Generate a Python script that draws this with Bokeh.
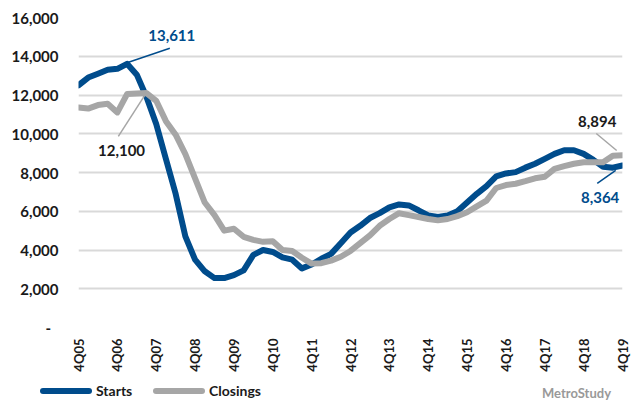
import math
from bokeh.plotting import figure
from bokeh.layouts import column
from bokeh.models import Range1d, FixedTicker, Label, ColumnDataSource, Div
from bokeh.embed import file_html
from bokeh.resources import INLINE

# ---------------- data ----------------
quarters = []
for yy in range(5, 20):
    for q in (1, 2, 3, 4):
        if (yy == 5 and q < 4):
            continue
        quarters.append(f"{q}Q{yy:02d}")
quarters = quarters[:57]

starts = [12500, 12900, 13100, 13300, 13350, 13611, 13050, 11900, 10500, 8700,
          6900, 4700, 3500, 2900, 2550, 2550, 2700, 2950, 3750, 4000,
          3900, 3620, 3500, 3050, 3250, 3550, 3800, 4350, 4900, 5250,
          5650, 5900, 6200, 6350, 6300, 6050, 5780, 5700, 5780, 6000,
          6450, 6900, 7300, 7800, 7950, 8020, 8250, 8450, 8700, 8960,
          9150, 9150, 8960, 8650, 8300, 8250, 8364]

closings = [11350, 11300, 11480, 11550, 11100, 12050, 12080, 12100, 11700, 10650,
            9950, 8950, 7700, 6450, 5800, 5000, 5100, 4680, 4520, 4420,
            4450, 4000, 3950, 3600, 3300, 3320, 3450, 3650, 3950, 4350,
            4750, 5250, 5600, 5900, 5800, 5700, 5600, 5530, 5600, 5750,
            5950, 6250, 6550, 7200, 7350, 7420, 7550, 7700, 7780, 8190,
            8330, 8450, 8530, 8530, 8530, 8870, 8894]

y_ticks = [0, 2000, 4000, 6000, 8000, 10000, 12000, 14000, 16000]
y_tick_labels = ["-\u00a0\u00a0", "2,000", "4,000", "6,000", "8,000", "10,000", "12,000", "14,000", "16,000"]

series_names = ["Starts", "Closings"]
source_note = "MetroStudy"

# ---------------- styling ----------------
BLUE = "#004C8C"
GRAY = "#A6A6A6"
GRID = "#D9D9D9"
TXT = "#1A1A1A"
FONT = "Lato"

x = list(range(len(quarters)))
src = ColumnDataSource(dict(x=x, starts=starts, closings=closings))

p = figure(width=634, height=376, output_backend="svg", toolbar_location=None,
           x_range=Range1d(0, len(quarters) - 1), y_range=Range1d(0, 16000),
           min_border_left=78, min_border_right=12, min_border_top=17, min_border_bottom=49)
p.outline_line_color = None
p.background_fill_color = "white"
p.border_fill_color = "white"

r1 = p.line("x", "starts", source=src, line_width=6, color=BLUE, line_join="round", line_cap="round")
r2 = p.line("x", "closings", source=src, line_width=6, color=GRAY, line_join="round", line_cap="round")

# y axis
p.yaxis.ticker = FixedTicker(ticks=y_ticks)
p.yaxis.major_label_overrides = {t: l for t, l in zip(y_ticks, y_tick_labels)}
p.yaxis.axis_line_color = None
p.yaxis.major_tick_line_color = None
p.yaxis.minor_tick_line_color = None
p.yaxis.major_tick_out = 0
p.yaxis.major_tick_in = 0
p.yaxis.major_label_standoff = 20
p.yaxis.major_label_text_font = FONT
p.yaxis.major_label_text_font_style = "bold"
p.yaxis.major_label_text_font_size = "15px"
p.yaxis.major_label_text_color = TXT

p.ygrid.grid_line_color = GRID
p.ygrid.grid_line_width = 2
p.xgrid.grid_line_color = None

# x axis
xt = [i for i, q in enumerate(quarters) if q.startswith("4Q")]
p.xaxis.ticker = FixedTicker(ticks=xt)
p.xaxis.major_label_overrides = {i: quarters[i] for i in xt}
p.xaxis.major_label_orientation = math.pi / 2
p.xaxis.axis_line_color = None
p.xaxis.major_tick_line_color = None
p.xaxis.minor_tick_line_color = None
p.xaxis.major_tick_out = 0
p.xaxis.major_tick_in = 0
p.xaxis.major_label_standoff = 11
p.xaxis.major_label_text_font = FONT
p.xaxis.major_label_text_font_style = "bold"
p.xaxis.major_label_text_font_size = "13px"
p.xaxis.major_label_text_color = TXT

# annotations (anchored to data points)
i_sp = starts.index(max(starts))
i_cp = closings.index(max(closings))
i_last = len(quarters) - 1


def ann(xv, yv, txt, color):
    p.add_layout(Label(x=xv, y=yv, text=txt, text_align="center", text_baseline="middle",
                       text_color=color, text_font=FONT, text_font_style="bold",
                       text_font_size="15px"))


p.segment(x0=[i_sp + 0.15], y0=[starts[i_sp] + 80], x1=[i_sp + 4.4], y1=[starts[i_sp] + 800],
          line_color=BLUE, line_width=1.5)
ann(i_sp + 4.6, starts[i_sp] + 1450, f"{starts[i_sp]:,}", BLUE)

p.segment(x0=[i_cp - 0.2], y0=[closings[i_cp] - 130], x1=[i_cp - 2.9], y1=[closings[i_cp] - 2240],
          line_color=GRAY, line_width=1.5)
ann(i_cp - 2.57, closings[i_cp] - 2965, f"{closings[i_cp]:,}", TXT)

p.segment(x0=[i_last - 2.7], y0=[closings[i_last] + 1120], x1=[i_last - 0.6], y1=[closings[i_last] + 240],
          line_color=GRAY, line_width=1.5)
ann(i_last - 2.6, closings[i_last] + 1740, f"{closings[i_last]:,}", TXT)

p.segment(x0=[i_last - 2.6], y0=[starts[i_last] - 930], x1=[i_last - 0.7], y1=[starts[i_last] - 260],
          line_color=BLUE, line_width=1.5)
ann(i_last - 2.3, starts[i_last] - 1650, f"{starts[i_last]:,}", BLUE)

# ---------------- legend strip (HTML row below the chart) ----------------
def swatch(left, color):
    return (f'<span style="position:absolute;left:{left}px;top:12px;width:52px;height:6px;'
            f'background:{color};border-radius:3px;"></span>')


def word(left, txt, color, size):
    return (f'<span style="position:absolute;left:{left}px;top:7px;font-size:{size}px;'
            f'line-height:16px;color:{color};white-space:nowrap;">{txt}</span>')


legend_html = (
    f'<div style="position:relative;width:634px;height:26px;font-family:{FONT};font-weight:bold;margin:0;">'
    + swatch(40, BLUE) + word(96, series_names[0], TXT, 14)
    + swatch(153, GRAY) + word(209, series_names[1], TXT, 14)
    + word(542, source_note, "#999999", 13).replace("top:7px", "top:9px")
    + '</div>'
)
lg = Div(text=legend_html, width=634, height=26, margin=0)

layout = column(p, lg, spacing=0)
open("out.html", "w").write(file_html(layout, INLINE))
